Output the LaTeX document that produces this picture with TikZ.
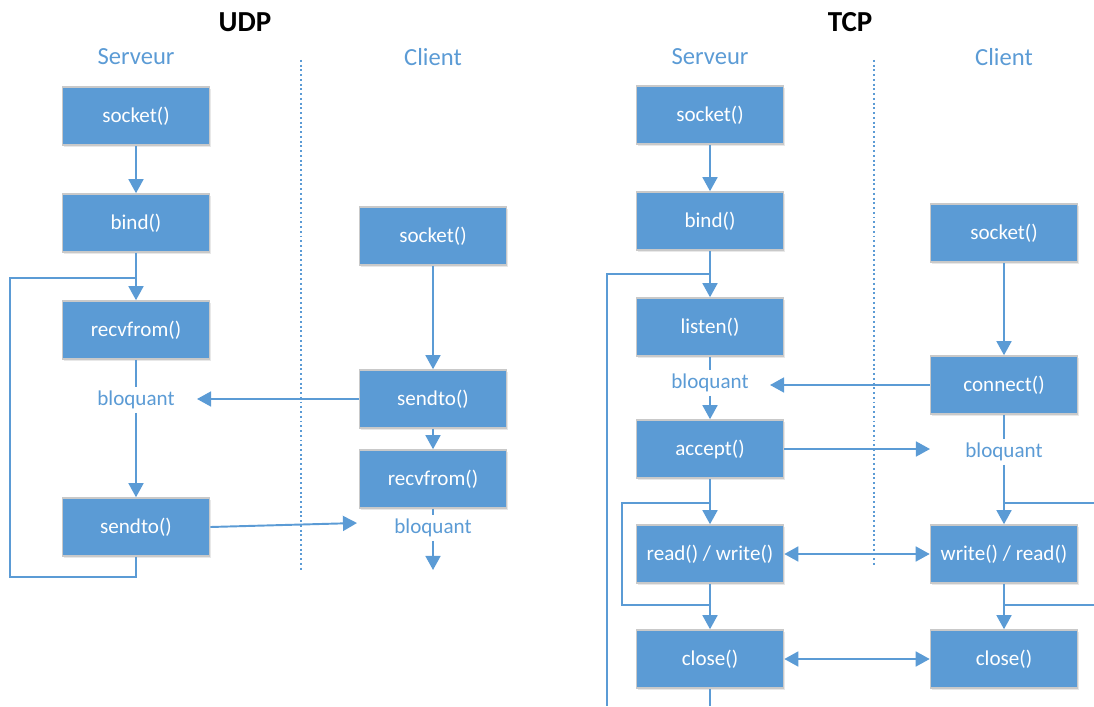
\documentclass[tikz,border=0pt]{standalone}
\usepackage{fontspec}
\setmainfont{Carlito}
\usetikzlibrary{arrows.meta, positioning, calc, shadows}
\definecolor{boxblue}{HTML}{5B9BD5}
\definecolor{boxborder}{HTML}{C9C9C9}

\begin{document}
\begin{tikzpicture}[x=0.02cm, y=-0.02cm,
    fn/.style={draw=boxborder, line width=0.9pt, fill=boxblue, text=white,
        minimum width=2.94cm, minimum height=1.16cm, inner sep=0pt,
        font=\fontsize{12}{13}\selectfont,
        drop shadow={opacity=0.18, shadow xshift=1pt, shadow yshift=-1.2pt}},
    wire/.style={draw=boxblue, line width=1.1pt},
    flow/.style={wire, -{Triangle[length=8pt, width=8.5pt]}},
    both/.style={wire, {Triangle[length=8pt, width=8.5pt]}-{Triangle[length=8pt, width=8.5pt]}},
    blk/.style={text=boxblue, fill=white, inner sep=2pt, font=\fontsize{12}{13}\selectfont},
    side/.style={text=boxblue, font=\fontsize{14}{16}\selectfont},
    proto/.style={font=\bfseries\fontsize{16.5}{18}\selectfont},
    sep/.style={draw=boxblue, line width=1pt, dash pattern=on 1.1pt off 1.6pt}]

    \useasboundingbox (0,0) rectangle (1094,706);

    % UDP headings
    \node[proto] (udp) at (245,22) {UDP};
    \node[side] (us) at (136,57) {Serveur};
    \node[side] (uc) at (433,57) {Client};
    \coordinate (usepT) at (301,60);
    \coordinate (usepB) at (301,572);
    \draw[sep] (usepT) -- (usepB);

    % UDP server
    \node[fn] (usock) at (136,116) {socket()};
    \node[fn] (ubind) at (136,223) {bind()};
    \node[fn] (urecv) at (136,330) {recvfrom()};
    \node[blk] (ublk) at (136,400) {bloquant};
    \node[fn] (usend) at (136,527) {sendto()};
    \coordinate (uloopT) at (136,278);
    \coordinate (uloopB) at (10,577);
    \coordinate (uin) at (197,399);

    % UDP client
    \node[fn] (ucsock) at (433,236) {socket()};
    \node[fn] (ucsend) at (433,399) {sendto()};
    \node[fn] (ucrecv) at (433,479) {recvfrom()};
    \node[blk] (ucblk) at (433,528) {bloquant};
    \coordinate (ucend) at (433,570);
    \coordinate (ucin) at (357,523);

    % UDP links
    \draw[flow] (usock) -- (ubind);
    \draw[wire] (ubind) -- (uloopT);
    \draw[flow] (uloopT) -- (urecv);
    \draw[wire] (urecv) -- (ublk);
    \draw[flow] (ublk) -- (usend);
    \draw[wire] (usend.south) |- (uloopB) |- (uloopT);
    \draw[flow] (ucsock) -- (ucsend);
    \draw[flow] (ucsend) -- (ucrecv);
    \draw[wire] (ucrecv) -- (ucblk);
    \draw[flow] (ucblk) -- (ucend);
    \draw[flow] (ucsend.west) -- (uin);
    \draw[flow] (usend.east) -- (ucin);

    % TCP headings
    \node[proto] (tcp) at (850,22) {TCP};
    \node[side] (ts) at (710,57) {Serveur};
    \node[side] (tc) at (1004,57) {Client};
    \coordinate (tsepT) at (874,60);
    \coordinate (tsepB) at (874,565);
    \draw[sep] (tsepT) -- (tsepB);

    % TCP server
    \node[fn] (tsock) at (710,115) {socket()};
    \node[fn] (tbind) at (710,221) {bind()};
    \node[fn] (tlisten) at (710,327) {listen()};
    \node[blk] (tblk) at (710,383) {bloquant};
    \node[fn] (taccept) at (710,449) {accept()};
    \node[fn] (trw) at (710,554) {read() / write()};
    \node[fn] (tclose) at (710,659) {close()};
    \coordinate (tloopT) at (710,274);
    \coordinate (tloopB) at (607,706);
    \coordinate (tinT) at (710,503);
    \coordinate (tinB) at (710,605);
    \coordinate (tinL) at (622,605);
    \coordinate (tend) at (710,706);
    \coordinate (tin) at (770,385);

    % TCP client
    \node[fn] (tcsock) at (1004,233) {socket()};
    \node[fn] (tcconn) at (1004,385) {connect()};
    \node[blk] (tcblk) at (1004,452) {bloquant};
    \node[fn] (tcwr) at (1004,554) {write() / read()};
    \node[fn] (tcclose) at (1004,659) {close()};
    \coordinate (tcloopT) at (1004,503);
    \coordinate (tcloopB) at (1004,605);
    \coordinate (tcexT) at (1094,503);
    \coordinate (tcexB) at (1094,605);
    \coordinate (tcin) at (930,449);

    % TCP links
    \draw[flow] (tsock) -- (tbind);
    \draw[wire] (tbind) -- (tloopT);
    \draw[flow] (tloopT) -- (tlisten);
    \draw[wire] (tloopT) -| (tloopB);
    \draw[wire] (tlisten) -- (tblk);
    \draw[flow] (tblk) -- (taccept);
    \draw[wire] (taccept) -- (tinT);
    \draw[flow] (tinT) -- (trw);
    \draw[wire] (trw) -- (tinB);
    \draw[flow] (tinB) -- (tclose);
    \draw[wire] (tinT) -| (tinL) -- (tinB);
    \draw[wire] (tclose) -- (tend);
    \draw[flow] (tcsock) -- (tcconn);
    \draw[wire] (tcconn) -- (tcblk);
    \draw[wire] (tcblk) -- (tcloopT);
    \draw[flow] (tcloopT) -- (tcwr);
    \draw[wire] (tcwr) -- (tcloopB);
    \draw[flow] (tcloopB) -- (tcclose);
    \draw[wire] (tcloopT) -- (tcexT);
    \draw[wire] (tcloopB) -- (tcexB);
    \draw[flow] (tcconn.west) -- (tin);
    \draw[flow] (taccept.east) -- (tcin);
    \draw[both] (trw) -- (tcwr);
    \draw[both] (tclose) -- (tcclose);
\end{tikzpicture}
\end{document}
